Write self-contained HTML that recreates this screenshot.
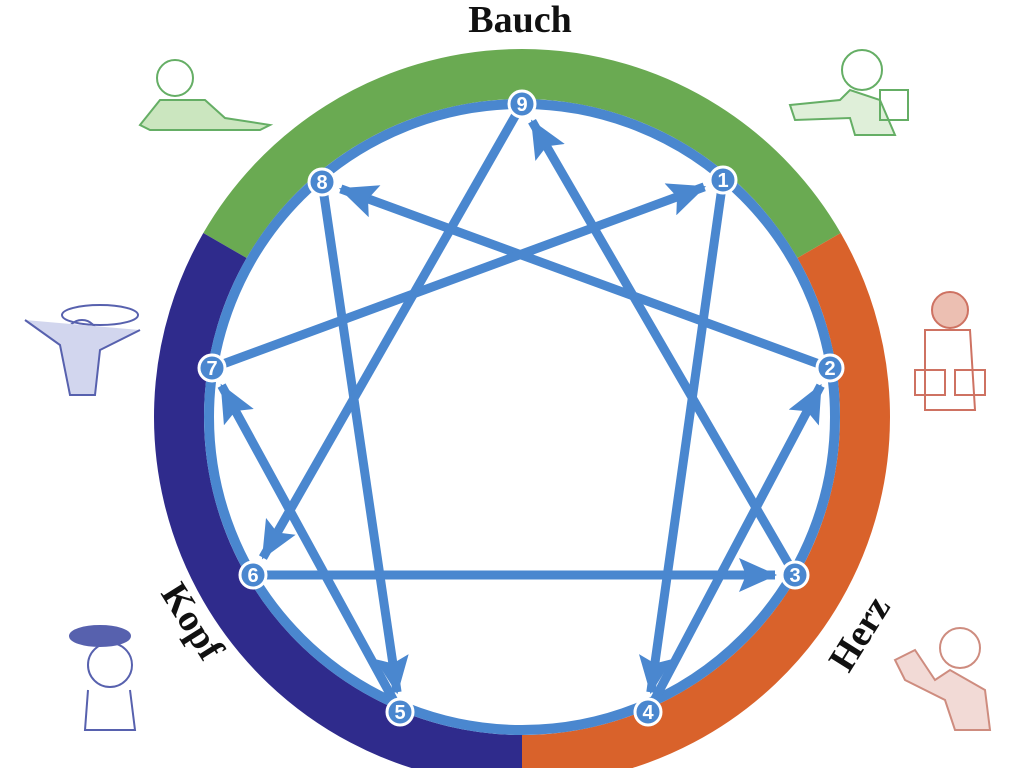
<!DOCTYPE html>
<html><head><meta charset="utf-8"><style>
html,body{margin:0;padding:0;background:#fff;width:1024px;height:768px;overflow:hidden}
svg{display:block}
</style></head><body>
<svg id="s" width="1024" height="768" viewBox="0 0 1024 768" xmlns="http://www.w3.org/2000/svg">
<defs>
<marker id="ah" markerUnits="userSpaceOnUse" markerWidth="40" markerHeight="34" refX="36" refY="17" orient="auto">
<path d="M0,0 L38,17 L0,34 L7,17 Z" fill="#4a87cf"/>
</marker>
</defs>
<g id="ring"></g>
<circle cx="522" cy="417" r="313" fill="#fff" stroke="#4a87cf" stroke-width="10"/>
<g id="lines"></g>
<g id="nodes"></g>
<text x="520" y="32" font-family="Liberation Serif, serif" font-size="38" font-weight="bold" text-anchor="middle" fill="#111">Bauch</text>
<text transform="translate(870,640) rotate(-58)" font-family="Liberation Serif, serif" font-size="38" font-weight="bold" text-anchor="middle" fill="#111">Herz</text>
<text transform="translate(182,628) rotate(58)" font-family="Liberation Serif, serif" font-size="38" font-weight="bold" text-anchor="middle" fill="#111">Kopf</text>
<g opacity="0.8">
<g fill="none" stroke="#3f9a3f" stroke-width="2"><circle cx="175" cy="78" r="18"/><path d="M140,125 L160,100 L205,100 L225,118 L270,125 L260,130 L150,130Z" fill="#bfe0b0"/></g>
<g fill="none" stroke="#3f9a3f" stroke-width="2"><circle cx="862" cy="70" r="20"/><path d="M790,105 L840,100 L850,90 L880,100 L895,135 L855,135 L850,118 L795,120Z" fill="#d8ecd0"/><rect x="880" y="90" width="28" height="30"/></g>
<g fill="none" stroke="#2e3a9a" stroke-width="2"><ellipse cx="100" cy="315" rx="38" ry="10"/><circle cx="82" cy="335" r="15"/><path d="M25,320 L60,345 L70,395 L95,395 L100,350 L140,330" fill="#c8cdea"/></g>
<g fill="none" stroke="#2e3a9a" stroke-width="2"><ellipse cx="100" cy="636" rx="30" ry="10" fill="#2e3a9a"/><circle cx="110" cy="665" r="22"/><path d="M88,690 L85,730 L135,730 L130,690"/></g>
<g fill="none" stroke="#c2503c" stroke-width="2"><circle cx="950" cy="310" r="18" fill="#e8b0a0"/><path d="M925,330 L925,410 L975,410 L970,330Z"/><rect x="915" y="370" width="30" height="25"/><rect x="955" y="370" width="30" height="25"/></g>
<g fill="none" stroke="#c27060" stroke-width="2"><circle cx="960" cy="648" r="20"/><path d="M895,660 L915,650 L935,680 L950,670 L985,690 L990,730 L955,730 L945,700 L905,680Z" fill="#f0d2cc"/></g>
</g>
</svg>
<script>
var NS="http://www.w3.org/2000/svg",cx=522,cy=417;
function pt(a,R){a=a*Math.PI/180;return [cx+R*Math.sin(a),cy-R*Math.cos(a)];}
function arc(a1,a2,col){var R=343,p=pt(a1,R),q=pt(a2,R);var e=document.createElementNS(NS,"path");
e.setAttribute("d","M"+p[0]+","+p[1]+" A"+R+","+R+" 0 0 1 "+q[0]+","+q[1]);e.setAttribute("fill","none");e.setAttribute("stroke",col);e.setAttribute("stroke-width","50");document.getElementById("ring").appendChild(e);}
arc(-60,60,"#6aaa52");arc(60,180,"#d9622b");arc(180,300,"#2f2b8c");
var N={9:[522,104],1:[723,180],2:[830,368],3:[795,575],4:[648,712],5:[400,712],6:[253,575],7:[212,368],8:[322,182]};
var E=[[1,4],[4,2],[2,8],[8,5],[5,7],[7,1],[9,6],[6,3],[3,9]];
var L=document.getElementById("lines");
E.forEach(function(e){var a=N[e[0]],b=N[e[1]],dx=b[0]-a[0],dy=b[1]-a[1],d=Math.hypot(dx,dy),ux=dx/d,uy=dy/d;
var l=document.createElementNS(NS,"line");l.setAttribute("x1",a[0]+ux*12);l.setAttribute("y1",a[1]+uy*12);
l.setAttribute("x2",b[0]-ux*20);l.setAttribute("y2",b[1]-uy*20);l.setAttribute("stroke","#4a87cf");l.setAttribute("stroke-width","9");l.setAttribute("marker-end","url(#ah)");L.appendChild(l);});
var G=document.getElementById("nodes");
for(var k in N){var c=document.createElementNS(NS,"circle");c.setAttribute("cx",N[k][0]);c.setAttribute("cy",N[k][1]);c.setAttribute("r",13);c.setAttribute("fill","#4a87cf");c.setAttribute("stroke","#fff");c.setAttribute("stroke-width","3");G.appendChild(c);
var t=document.createElementNS(NS,"text");t.setAttribute("x",N[k][0]);t.setAttribute("y",N[k][1]+7);t.setAttribute("text-anchor","middle");t.setAttribute("font-family","Liberation Sans, sans-serif");t.setAttribute("font-weight","bold");t.setAttribute("font-size","20");t.setAttribute("fill","#fff");t.textContent=k;G.appendChild(t);}
</script>
</body></html>
